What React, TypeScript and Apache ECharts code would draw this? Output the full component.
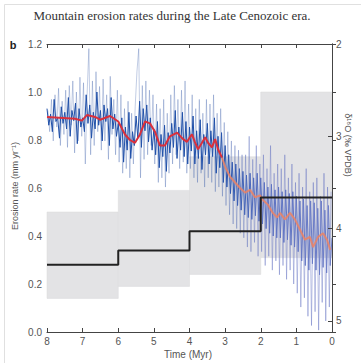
import React, { useEffect, useRef } from 'react';
import * as echarts from 'echarts';

const TITLE = 'Mountain erosion rates during the Late Cenozoic era.';
const PANEL = 'b';
const X_NAME = 'Time (Myr)';
const Y_NAME = 'Erosion rate (mm yr\u207B\u00B9)';
const Y2_NAME = '\u03B4\u00B9\u2078O (\u2030 VPDB)';

// Erosion-rate bins (Myr) with mean and uncertainty range (mm/yr)
const binStart = [8, 6, 4, 2];
const binEnd = [6, 4, 2, 0];
const rateMean = [0.28, 0.34, 0.42, 0.56];
const rateLow = [0.14, 0.19, 0.24, 0.31];
const rateHigh = [0.5, 0.59, 0.73, 1.0];

// Smoothed δ18O (older part, red)
const redTime = [8.0, 7.21, 7.02, 6.88, 6.65, 6.51, 6.23, 6.0, 5.81, 5.67, 5.53, 5.39, 5.25, 5.11, 4.97, 4.83, 4.69, 4.55, 4.35, 4.18, 4.07, 3.99, 3.93, 3.85, 3.76, 3.65, 3.56, 3.48, 3.37, 3.28, 3.2, 3.09];
const redD18O = [2.79, 2.81, 2.83, 2.77, 2.79, 2.82, 2.78, 2.84, 2.98, 3.04, 3.07, 2.98, 2.84, 2.86, 2.95, 3.1, 3.1, 3.0, 2.96, 3.03, 3.06, 3.01, 2.98, 3.06, 3.14, 3.07, 3.01, 3.07, 3.12, 3.03, 3.14, 3.23];
// Smoothed δ18O (younger part, orange)
const orangeTime = [3.09, 3.0, 2.86, 2.72, 2.58, 2.44, 2.3, 2.16, 2.02, 1.94, 1.8, 1.66, 1.54, 1.46, 1.32, 1.18, 1.04, 0.9, 0.76, 0.62, 0.53, 0.39, 0.25, 0.14, 0.05];
const orangeD18O = [3.23, 3.33, 3.44, 3.5, 3.56, 3.61, 3.58, 3.66, 3.64, 3.69, 3.74, 3.83, 3.88, 3.83, 3.9, 3.83, 3.9, 4.01, 4.12, 4.09, 4.2, 4.09, 4.05, 4.12, 4.23];

// Raw benthic δ18O record, dense core (every 0.05 Myr from 8.00 to 0.00)
const coreStartTime = 8.0;
const coreStep = 0.05;
const coreD18O = [
  2.7, 2.88, 2.76, 2.95, 2.6, 2.84, 2.8, 3.02, 2.68, 2.86,
  2.74, 2.92, 2.58, 3.0, 2.72, 2.83, 2.64, 3.08, 2.7, 2.9,
  2.8, 2.95, 2.55, 2.86, 2.66, 3.02, 2.74, 2.92, 2.52, 2.88,
  2.72, 3.05, 2.66, 2.84, 2.7, 3.1, 2.58, 2.92, 2.76, 3.0,
  2.86, 3.12, 2.8, 3.28, 2.9, 3.15, 2.74, 3.24, 2.95, 3.1,
  2.78, 3.02, 2.62, 3.12, 2.7, 2.94, 2.66, 3.06, 2.8, 3.15,
  2.92, 3.2, 2.84, 3.34, 2.98, 3.22, 2.88, 3.38, 2.96, 3.18,
  2.86, 3.12, 2.72, 3.24, 2.9, 3.15, 2.74, 3.22, 2.84, 3.3,
  2.9, 3.16, 2.78, 3.3, 2.94, 3.24, 2.82, 3.36, 2.98, 3.2,
  2.86, 3.3, 2.94, 3.22, 2.8, 3.4, 3.0, 3.34, 2.96, 3.5,
  3.1, 3.55, 3.2, 3.62, 3.28, 3.7, 3.3, 3.75, 3.35, 3.8,
  3.38, 3.85, 3.42, 3.88, 3.4, 3.9, 3.45, 3.86, 3.4, 3.92,
  3.45, 3.95, 3.5, 4.0, 3.55, 4.05, 3.52, 4.08, 3.58, 4.1,
  3.55, 4.1, 3.6, 4.15, 3.58, 4.12, 3.62, 4.18, 3.6, 4.2,
  3.65, 4.25, 3.7, 4.35, 3.68, 4.4, 3.75, 4.45, 3.7, 4.38,
  3.72, 4.45, 3.78, 4.5, 3.7, 4.42, 3.8, 4.48, 3.75, 4.4,
  4.1,
];

// Raw benthic δ18O record, wide excursions (every 0.05 Myr from 7.975 to 0.025)
const spikeStartTime = 7.975;
const spikeStep = 0.05;
const spikeD18O = [
  2.72, 2.95, 2.6, 3.05, 2.55, 2.9, 2.48, 3.1, 2.62, 2.98,
  2.5, 3.12, 2.45, 2.88, 2.4, 3.18, 2.52, 3.05, 2.36, 3.0,
  2.42, 3.3, 2.55, 2.05, 3.2, 2.4, 3.1, 2.3, 2.95, 2.46,
  3.15, 2.38, 3.05, 2.55, 3.25, 2.35, 2.98, 2.6, 3.2, 2.5,
  3.28, 2.55, 3.4, 2.7, 3.35, 2.62, 3.45, 2.75, 3.3, 2.68,
  2.3, 2.05, 3.45, 2.45, 3.25, 2.4, 3.2, 2.5, 3.1, 2.55,
  3.3, 2.65, 3.5, 2.7, 3.45, 2.6, 3.55, 2.75, 3.4, 2.55,
  3.3, 2.45, 3.2, 2.6, 3.35, 2.5, 3.28, 2.4, 3.4, 2.65,
  3.35, 2.55, 3.45, 2.7, 3.5, 2.6, 3.4, 2.75, 3.55, 2.6,
  3.45, 2.65, 3.5, 2.55, 3.6, 2.75, 3.55, 2.7, 3.65, 2.85,
  3.75, 2.95, 3.85, 3.05, 3.95, 3.1, 4.0, 3.15, 4.05, 3.2,
  4.1, 3.2, 4.2, 3.0, 4.25, 3.25, 4.15, 3.1, 4.3, 3.3,
  4.25, 3.2, 4.4, 3.35, 4.3, 3.1, 4.45, 3.4, 4.35, 3.3,
  4.5, 3.35, 4.4, 3.2, 4.55, 3.45, 4.45, 3.3, 4.6, 3.5,
  4.7, 3.4, 4.85, 3.55, 4.75, 3.35, 4.95, 3.6, 5.05, 3.5,
  4.9, 3.45, 5.1, 3.65, 4.8, 3.4, 5.0, 3.55, 4.85, 3.6,
];

const SANS = '"Liberation Sans", Arial, Helvetica, sans-serif';
const SERIF = '"Liberation Serif", "DejaVu Serif", serif';

export default function App() {
  const ref = useRef<HTMLDivElement>(null);
  useEffect(() => {
    document.body.style.margin = '0';
    if (!ref.current) return;
    const chart = echarts.init(ref.current, undefined, { renderer: 'svg' });

    const coreData = coreD18O.map((v, i) => [+(coreStartTime - i * coreStep).toFixed(3), v]);
    const spikeData = spikeD18O.map((v, i) => [+(spikeStartTime - i * spikeStep).toFixed(3), v]);
    const redData = redTime.map((t, i) => [t, redD18O[i]]);
    const orangeData = orangeTime.map((t, i) => [t, orangeD18O[i]]);
    const stepData: number[][] = [];
    binStart.forEach((s, i) => {
      stepData.push([s, rateMean[i]]);
      stepData.push([binEnd[i], rateMean[i]]);
    });
    const boxData = binStart.map((s, i) => [s, binEnd[i], rateLow[i], rateHigh[i]]);

    const axisLine = { show: true, lineStyle: { color: '#444', width: 1 } };
    const axisTick = { show: true, inside: true, length: 4, lineStyle: { color: '#444' } };
    const axisLabel = { color: '#555', fontSize: 10, fontFamily: SANS };

    const option: any = {
      animation: false,
      grid: { left: 47, right: 29, top: 44, bottom: 31 },
      xAxis: [
        {
          type: 'value', min: 0, max: 8, interval: 1, inverse: true, position: 'bottom', z: 10,
          axisLine, axisTick, axisLabel: { ...axisLabel, margin: 4 }, splitLine: { show: false },
        },
        {
          type: 'value', min: 0, max: 8, interval: 1, inverse: true, position: 'top', z: 10,
          axisLine, axisTick, axisLabel: { show: false }, splitLine: { show: false },
        },
      ],
      yAxis: [
        {
          type: 'value', min: 0, max: 1.2, interval: 0.2, position: 'left', z: 10,
          axisLine, axisTick,
          axisLabel: { ...axisLabel, margin: 5, formatter: (v: number) => v.toFixed(1) },
          splitLine: { show: false },
        },
        {
          type: 'value', min: 2, max: 5.12, interval: 1, inverse: true, position: 'right', z: 10,
          axisLine, axisTick,
          axisLabel: { ...axisLabel, margin: 4, formatter: (v: number) => (Math.abs(v - Math.round(v)) < 1e-6 ? String(Math.round(v)) : '') },
          splitLine: { show: false },
        },
      ],
      series: [
        {
          type: 'custom', xAxisIndex: 0, yAxisIndex: 0, z: 1, silent: true,
          data: boxData,
          encode: { x: [0, 1], y: [2, 3] },
          renderItem: (params: any, api: any) => {
            const p1 = api.coord([api.value(0), api.value(3)]);
            const p2 = api.coord([api.value(1), api.value(2)]);
            return {
              type: 'rect',
              shape: {
                x: Math.min(p1[0], p2[0]), y: Math.min(p1[1], p2[1]),
                width: Math.abs(p2[0] - p1[0]), height: Math.abs(p2[1] - p1[1]),
              },
              style: { fill: '#e3e3e5', stroke: '#d8d8da', lineWidth: 0.5 },
            };
          },
        },
        {
          type: 'line', xAxisIndex: 0, yAxisIndex: 1, z: 2, symbol: 'none', silent: true,
          data: spikeData,
          lineStyle: {
            width: 0.7,
            color: new echarts.graphic.LinearGradient(0, 0, 1, 0, [
              { offset: 0, color: 'rgba(60,95,170,0.45)' },
              { offset: 0.6, color: 'rgba(60,95,170,0.45)' },
              { offset: 0.75, color: 'rgba(90,105,190,0.55)' },
              { offset: 1, color: 'rgba(90,105,190,0.6)' },
            ]),
          },
        },
        {
          type: 'line', xAxisIndex: 0, yAxisIndex: 1, z: 3, symbol: 'none', silent: true,
          data: coreData,
          lineStyle: {
            width: 1,
            color: new echarts.graphic.LinearGradient(0, 0, 1, 0, [
              { offset: 0, color: '#1f4fa8' },
              { offset: 0.6, color: '#1f4fa8' },
              { offset: 0.75, color: '#5a70c0' },
              { offset: 1, color: '#6f7fc8' },
            ]),
          },
        },
        {
          type: 'line', xAxisIndex: 0, yAxisIndex: 1, z: 4, symbol: 'none', silent: true,
          data: orangeData,
          lineStyle: { width: 2, color: 'rgba(236,130,100,0.85)' },
        },
        {
          type: 'line', xAxisIndex: 0, yAxisIndex: 1, z: 5, symbol: 'none', silent: true,
          data: redData,
          lineStyle: { width: 2, color: '#d9303c' },
        },
        {
          type: 'line', xAxisIndex: 0, yAxisIndex: 0, z: 6, symbol: 'none', silent: true,
          data: stepData,
          lineStyle: { width: 2, color: '#222' },
        },
      ],
      graphic: [
        {
          type: 'rect', left: 2, top: 2, z: -1, silent: true,
          shape: { x: 0, y: 0, width: 400, height: 400 },
          style: { fill: 'none', stroke: '#e0e0e0', lineWidth: 1 },
        },
        {
          type: 'text', x: 172, y: 15, silent: true,
          style: { text: TITLE, fill: '#333', font: `13px ${SERIF}`, textAlign: 'center', textVerticalAlign: 'middle' },
        },
        {
          type: 'text', x: 13, y: 45, silent: true,
          style: { text: PANEL, fill: '#222', font: `bold 11px ${SANS}`, textAlign: 'center', textVerticalAlign: 'middle' },
        },
        {
          type: 'text', x: 15, y: 186, rotation: Math.PI / 2, silent: true,
          style: { text: Y_NAME, fill: '#555', font: `9px ${SANS}`, textAlign: 'center', textVerticalAlign: 'middle' },
        },
        {
          type: 'text', x: 348, y: 145, rotation: -Math.PI / 2, silent: true,
          style: { text: Y2_NAME, fill: '#555', font: `9px ${SANS}`, textAlign: 'center', textVerticalAlign: 'middle' },
        },
        {
          type: 'text', x: 188, y: 354, silent: true,
          style: { text: X_NAME, fill: '#555', font: `10px ${SANS}`, textAlign: 'center', textVerticalAlign: 'middle' },
        },
      ],
    };
    chart.setOption(option);
    return () => chart.dispose();
  }, []);
  return <div ref={ref} style={{ width: 361, height: 363 }} />;
}
